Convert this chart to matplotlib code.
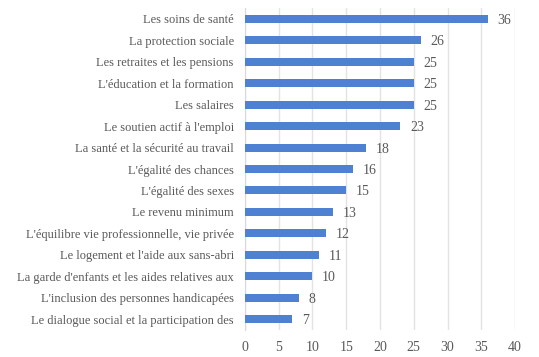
import matplotlib.pyplot as plt

categories = [
    "Les soins de santé",
    "La protection sociale",
    "Les retraites et les pensions",
    "L'éducation et la formation",
    "Les salaires",
    "Le soutien actif à l'emploi",
    "La santé et la sécurité au travail",
    "L'égalité des chances",
    "L'égalité des sexes",
    "Le revenu minimum",
    "L'équilibre vie professionnelle, vie privée",
    "Le logement et l'aide aux sans-abri",
    "La garde d'enfants et les aides relatives aux",
    "L'inclusion des personnes handicapées",
    "Le dialogue social et la participation des",
]
values = [36, 26, 25, 25, 25, 23, 18, 16, 15, 13, 12, 11, 10, 8, 7]
xticks = [0, 5, 10, 15, 20, 25, 30, 35, 40]

plt.rcParams['font.family'] = ['Liberation Serif', 'DejaVu Serif']
text_color = "#595959"

fig = plt.figure(figsize=(5.39, 3.57), dpi=100)
ax = fig.add_axes([0.4545, 0.0756, 0.501, 0.902])

pos = list(range(len(categories)))[::-1]
ax.barh(pos, values, height=0.37, color="#4F81D3", zorder=3)
for p, v in zip(pos, values):
    ax.annotate(str(v), (v, p), xytext=(7, 0), textcoords="offset points",
                va="center_baseline", ha="left", fontsize=10, color=text_color)

ax.set_yticks(pos)
ax.set_yticklabels(categories, fontsize=9, color=text_color)
ax.set_xticks(xticks)
ax.set_xticklabels([str(t) for t in xticks], fontsize=10, color=text_color)
ax.set_xlim(0, 40)
ax.set_ylim(-0.5, len(categories) - 0.5)

ax.grid(axis="x", color="#E3E3E3", linewidth=1, zorder=0)
for s in ["top", "right", "bottom"]:
    ax.spines[s].set_visible(False)
ax.spines["left"].set_color("#D9D9D9")
ax.tick_params(axis="both", length=0)
ax.tick_params(axis="y", pad=8)
ax.tick_params(axis="x", pad=8)

fig.savefig("out.png", dpi=100)
